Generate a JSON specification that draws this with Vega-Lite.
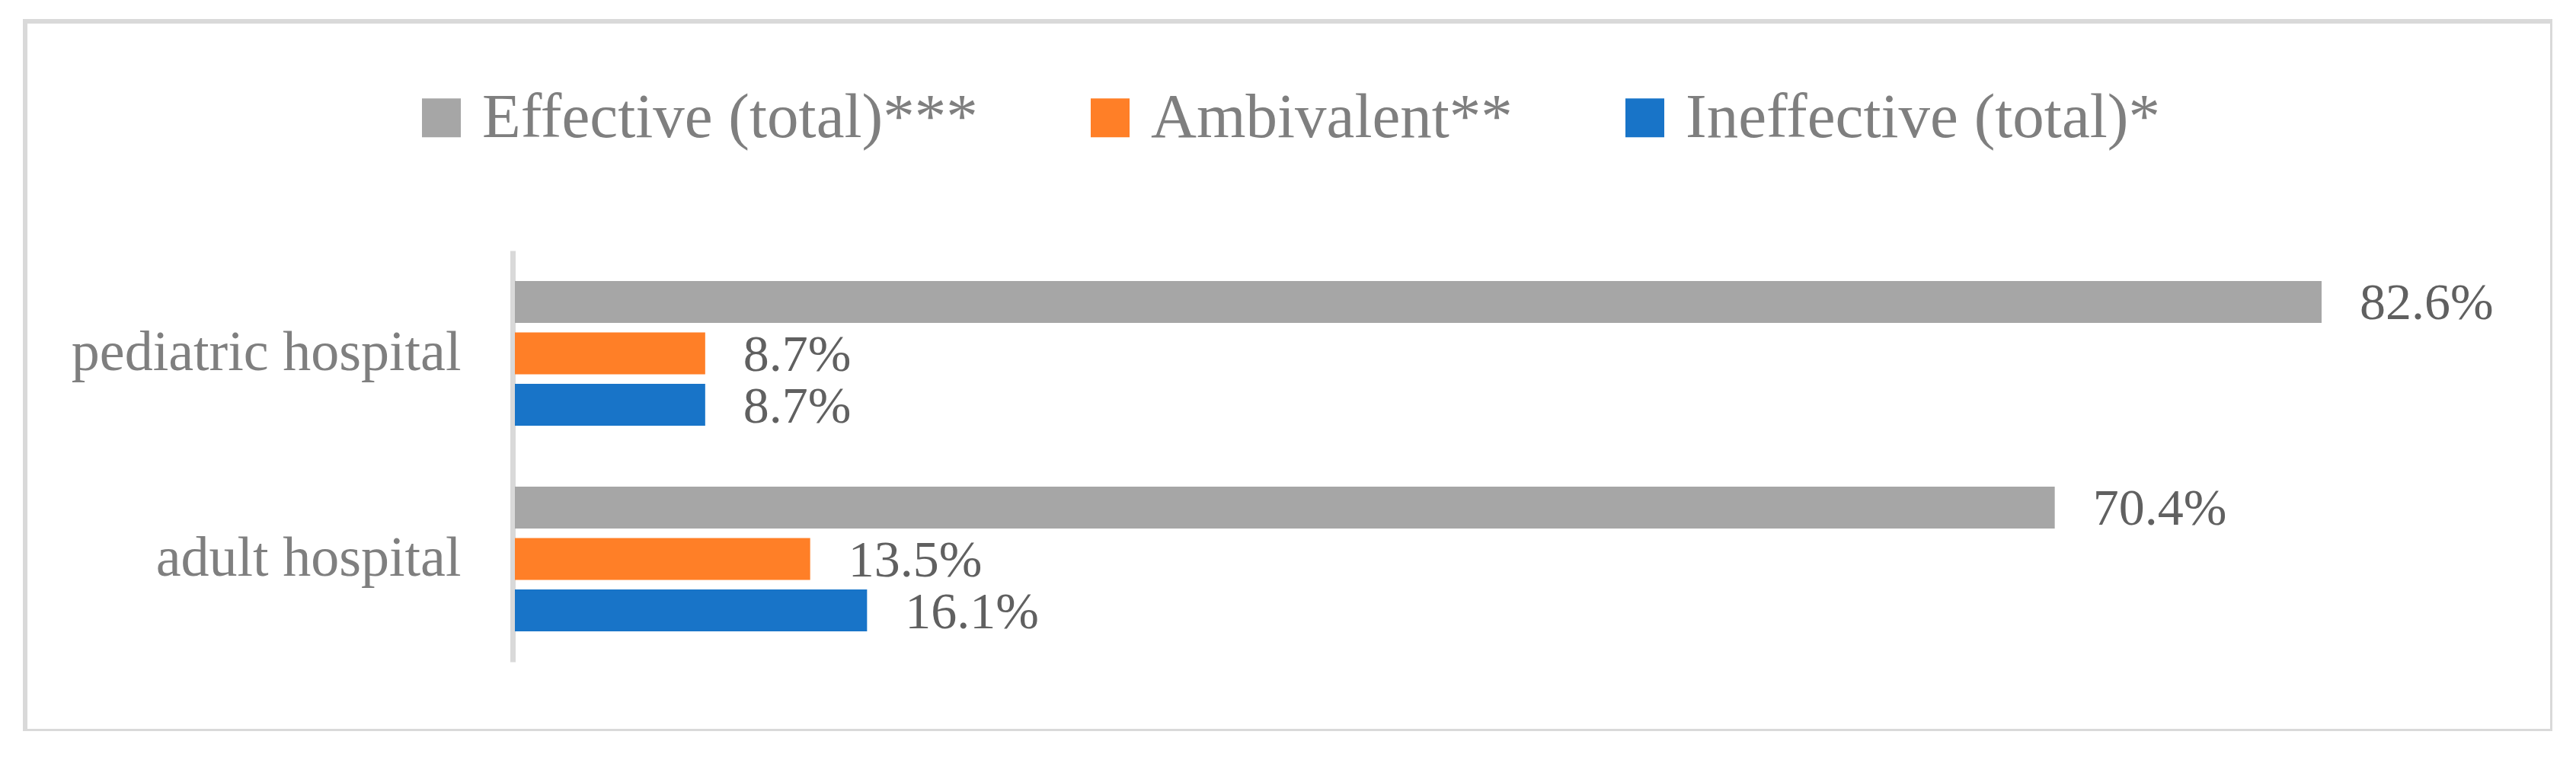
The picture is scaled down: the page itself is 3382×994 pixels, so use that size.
{
  "$schema": "https://vega.github.io/schema/vega-lite/v6.json",
  "width": 3318,
  "height": 932,
  "padding": {"left": 33, "top": 28, "right": 0, "bottom": 0},
  "autosize": {"type": "pad"},
  "background": "white",
  "config": {
    "view": {"stroke": "#d9d9d9", "strokeWidth": 6},
    "font": "Liberation Serif"
  },
  "data": {
    "values": [
      {"hospital": "pediatric hospital", "category": "Effective (total)***", "value": 0.826},
      {"hospital": "pediatric hospital", "category": "Ambivalent**", "value": 0.087},
      {"hospital": "pediatric hospital", "category": "Ineffective (total)*", "value": 0.087},
      {"hospital": "adult hospital", "category": "Effective (total)***", "value": 0.704},
      {"hospital": "adult hospital", "category": "Ambivalent**", "value": 0.135},
      {"hospital": "adult hospital", "category": "Ineffective (total)*", "value": 0.161}
    ]
  },
  "encoding": {
    "y": {
      "field": "hospital",
      "type": "nominal",
      "sort": ["pediatric hospital", "adult hospital"],
      "scale": {"range": [301, 841], "paddingInner": 0.296, "paddingOuter": 0.148},
      "axis": {
        "title": null,
        "offset": -640,
        "domainColor": "#d9d9d9",
        "domainWidth": 7,
        "ticks": false,
        "grid": false,
        "labelFontSize": 74,
        "labelColor": "#7f7f7f",
        "labelPadding": 68,
        "labelFont": "Liberation Serif",
        "labelLimit": 0
      }
    },
    "yOffset": {
      "field": "category",
      "type": "nominal",
      "sort": ["Effective (total)***", "Ambivalent**", "Ineffective (total)*"],
      "scale": {"paddingInner": 0.185, "paddingOuter": 0}
    },
    "x": {
      "field": "value",
      "type": "quantitative",
      "scale": {"domain": [0, 0.9], "range": [643, 3227.5]},
      "axis": null
    }
  },
  "layer": [
    {
      "mark": {"type": "bar"},
      "encoding": {
        "color": {
          "field": "category",
          "type": "nominal",
          "scale": {
            "domain": ["Effective (total)***", "Ambivalent**", "Ineffective (total)*"],
            "range": ["#a6a6a6", "#ff7f27", "#1874c8"]
          },
          "legend": {
            "title": null,
            "orient": "none",
            "legendX": 505,
            "legendY": 85,
            "direction": "horizontal",
            "symbolType": "square",
            "symbolSize": 2601,
            "symbolStrokeWidth": 0,
            "symbolOpacity": 1,
            "labelFontSize": 83,
            "labelColor": "#7f7f7f",
            "labelFont": "Liberation Serif",
            "labelOffset": 12,
            "columnPadding": 132,
            "labelLimit": 0
          }
        }
      }
    },
    {
      "mark": {"type": "text", "align": "left", "baseline": "middle", "dx": 50, "dy": 3, "fontSize": 68, "color": "#606060", "font": "Liberation Serif"},
      "encoding": {
        "text": {"field": "value", "type": "quantitative", "format": ".1%"}
      }
    }
  ]
}
